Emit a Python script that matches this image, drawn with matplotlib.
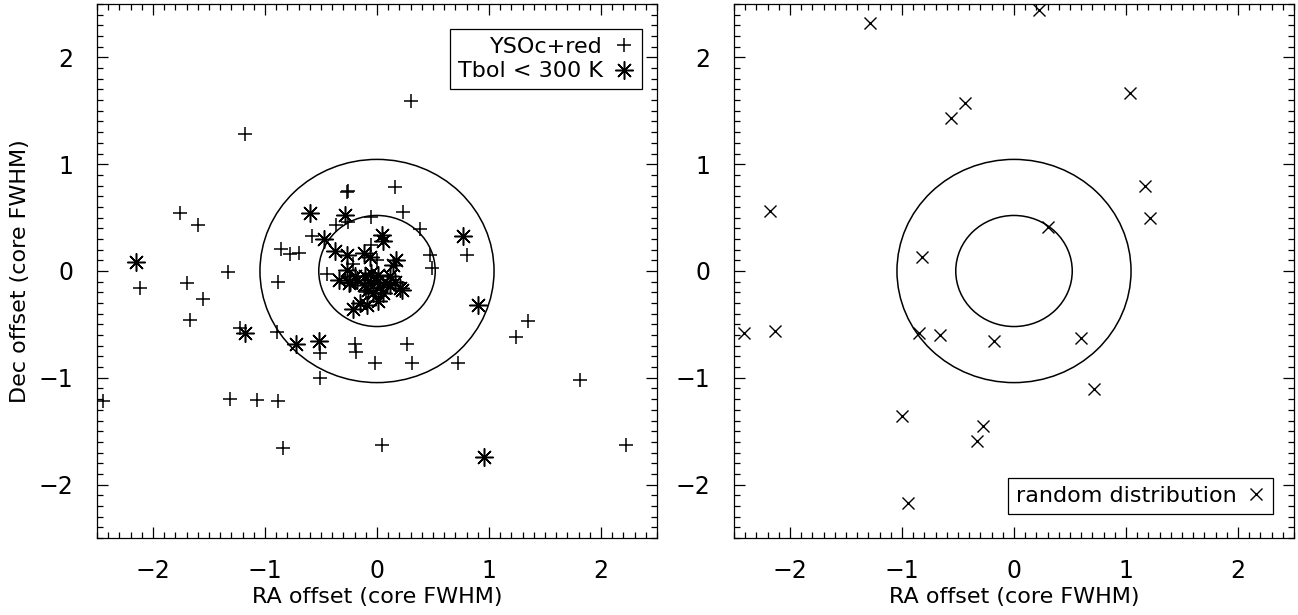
import matplotlib
matplotlib.use("Agg")
import matplotlib.pyplot as plt
from matplotlib.patches import Circle
from matplotlib.ticker import MultipleLocator

plt.rcParams['font.family'] = ['DejaVu Sans']

# YSOc+red sources (plus signs), offsets in core FWHM
yso_ra = [-2.45, -2.12, -1.76, -1.60, -1.70, -1.67, -1.55, -1.33, -1.22, -1.18,
          -1.31, -1.07, -0.88, -0.84, -0.89, -0.88, -0.86, -0.78, -0.70, -0.58,
          -0.27, -0.26, 0.16, 0.235, -0.05, -0.26, -0.37, 0.38, -0.05, -0.21,
          -0.45, 0.47, 0.49, 0.80, 1.35, 1.24, 0.72, 1.81, 2.22, 0.30,
          0.045, -0.51, -0.20, -0.19, 0.265, -0.02, 0.31, -0.51, 0.00, -0.10]
yso_dec = [-1.22, -0.16, 0.54, 0.43, -0.11, -0.46, -0.26, -0.01, -0.53, 1.28,
           -1.20, -1.21, -1.22, -1.66, -0.57, -0.10, 0.21, 0.16, 0.165, 0.33,
           0.74, 0.75, 0.79, 0.555, 0.51, 0.46, 0.43, 0.39, 0.245, 0.07,
           -0.03, 0.15, 0.03, 0.15, -0.47, -0.62, -0.86, -1.02, -1.63, 1.59,
           -1.63, -0.77, -0.68, -0.76, -0.68, -0.86, -0.86, -1.00, 0.10, -0.20]

# Tbol < 300 K sources (asterisks)
tbol_ra = [-2.15, -1.18, -0.72, -0.52, -0.60, -0.29, -0.47, 0.045, 0.055, 0.77,
           0.90, 0.955, -0.375, -0.27, -0.12, -0.06, 0.17, 0.145, -0.27, -0.34,
           -0.25, -0.18, -0.11, -0.05, 0.01, -0.12, -0.06, 0.00, 0.085, 0.115,
           0.16, 0.205, -0.15, -0.21, -0.09, 0.01, -0.035, 0.055, 0.115, -0.24,
           -0.20, 0.03, -0.08, 0.22]
tbol_dec = [0.08, -0.58, -0.68, -0.66, 0.54, 0.52, 0.30, 0.34, 0.28, 0.33,
            -0.32, -1.74, 0.19, 0.15, 0.17, 0.13, 0.105, 0.055, 0.01, -0.085,
            -0.115, -0.085, -0.05, -0.02, -0.04, -0.13, -0.115, -0.10, -0.115, -0.05,
            -0.10, -0.16, -0.30, -0.36, -0.32, -0.28, -0.21, -0.21, -0.13, -0.10,
            -0.05, -0.15, -0.18, -0.18]

# random distribution (crosses)
rand_ra = [-1.29, 0.22, 1.04, -0.435, -0.56, 1.17, 1.21, -2.18, 0.30, -0.82,
           -2.415, -2.13, -0.845, -0.665, -0.175, 0.60, 0.71, -1.00, -0.28, -0.33,
           -0.945]
rand_dec = [2.32, 2.44, 1.67, 1.57, 1.43, 0.80, 0.50, 0.565, 0.41, 0.135,
            -0.585, -0.565, -0.585, -0.60, -0.66, -0.63, -1.105, -1.355, -1.45, -1.59,
            -2.17]

radii = [0.52, 1.045]
lim = (-2.5, 2.5)
ticks = [-2, -1, 0, 1, 2]
fs = 16

fig = plt.figure(figsize=(12.98, 6.15), dpi=100)
ax1 = fig.add_axes([97 / 1298, 77 / 615, 560 / 1298, 534 / 615])
ax2 = fig.add_axes([734 / 1298, 77 / 615, 560 / 1298, 534 / 615])

for ax in (ax1, ax2):
    ax.set_xlim(lim)
    ax.set_ylim(lim)
    ax.set_xticks(ticks)
    ax.set_yticks(ticks)
    ax.xaxis.set_minor_locator(MultipleLocator(0.1))
    ax.yaxis.set_minor_locator(MultipleLocator(0.1))
    ax.tick_params(which='both', direction='in', top=True, right=True,
                   labelsize=17, width=0.9, color='black')
    ax.tick_params(which='major', length=8)
    ax.tick_params(which='minor', length=4)
    ax.tick_params(axis='x', pad=15)
    ax.tick_params(axis='y', pad=17)
    for s in ax.spines.values():
        s.set_linewidth(0.9)
    for r in radii:
        ax.add_patch(Circle((0, 0), r, fill=False, color='black', lw=1.1))
    ax.set_xlabel('RA offset (core FWHM)', fontsize=fs, labelpad=3)

ax1.set_ylabel('Dec offset (core FWHM)', fontsize=fs, labelpad=6)

ax1.plot(yso_ra, yso_dec, ls='none', marker='+', ms=10, mew=1.1,
         color='black', label='YSOc+red')
ax1.plot(tbol_ra, tbol_dec, ls='none', marker=(8, 2, 0), ms=13, mew=1.1,
         color='black', label='Tbol < 300 K')
ax2.plot(rand_ra, rand_dec, ls='none', marker='x', ms=8, mew=1.0,
         color='black', label='random distribution')

leg1 = ax1.legend(loc='upper right', bbox_to_anchor=(0.973, 0.953),
                  markerfirst=False, fancybox=False, fontsize=fs,
                  handlelength=0.9, handletextpad=0.5, borderpad=0.35,
                  labelspacing=0.2, borderaxespad=0, framealpha=1)
leg1.get_frame().set_edgecolor('black')
leg1.get_frame().set_linewidth(0.9)

leg2 = ax2.legend(loc='lower right', bbox_to_anchor=(0.9625, 0.045),
                  markerfirst=False, fancybox=False, fontsize=fs,
                  handlelength=0.8, handletextpad=0.5, borderpad=0.35,
                  borderaxespad=0, framealpha=1)
leg2.get_frame().set_edgecolor('black')
leg2.get_frame().set_linewidth(0.9)

fig.savefig('out.png', dpi=100)
